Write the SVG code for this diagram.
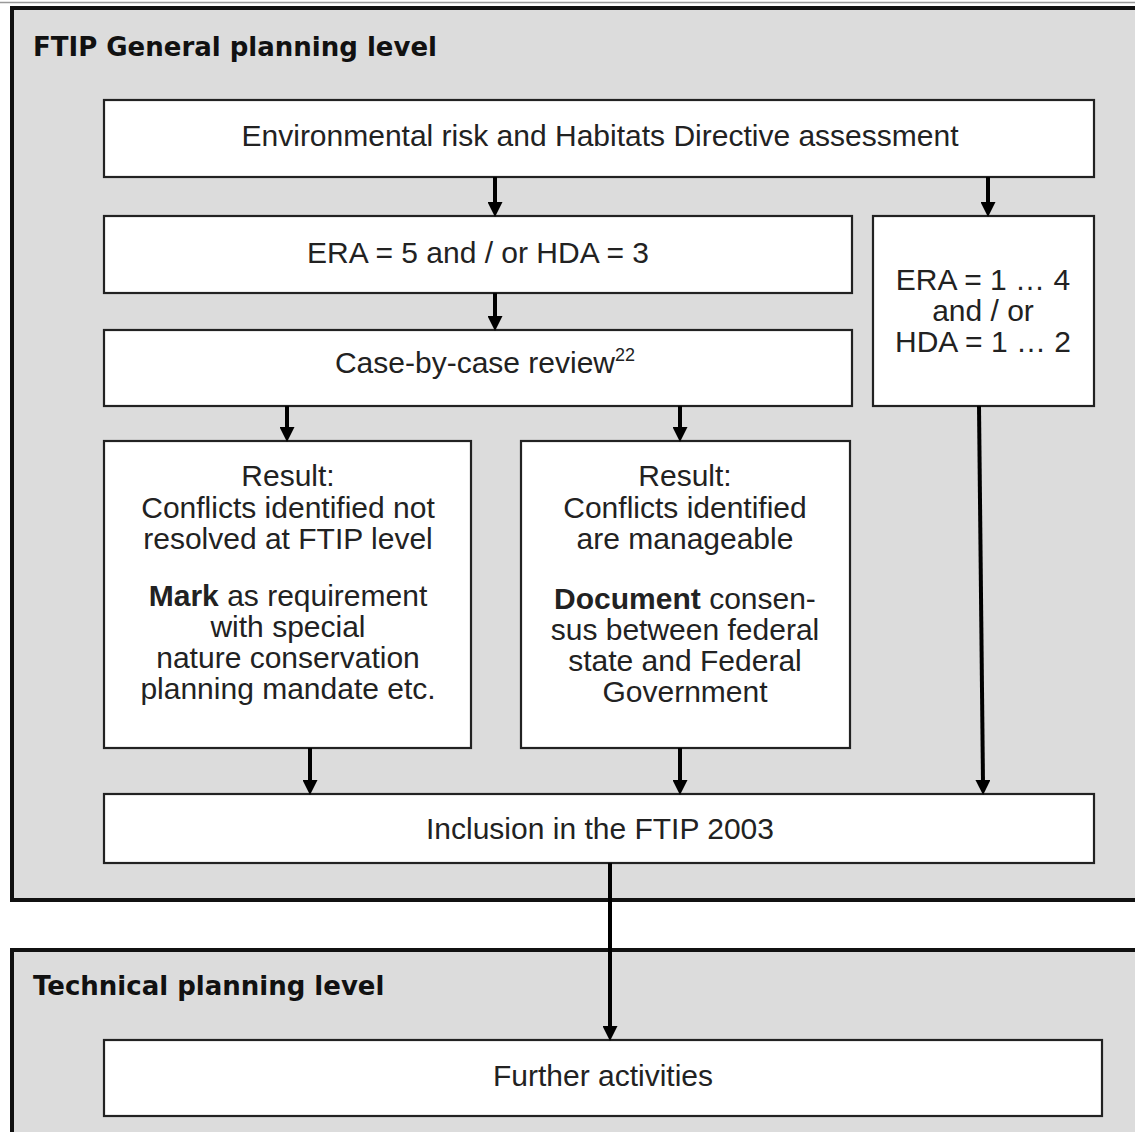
<svg xmlns="http://www.w3.org/2000/svg" width="1135" height="1132" viewBox="0 0 1135 1132">
<style>
.panel{fill:#dcdcdc;stroke:#111;stroke-width:4}
.box{fill:#fff;stroke:#222;stroke-width:2.2}
.t{font-family:"Liberation Sans",Arial,sans-serif;font-size:30px;fill:#222;text-anchor:middle}
.b{font-weight:bold}
.title{font-family:"DejaVu Sans",Verdana,sans-serif;font-weight:bold;font-size:26px;fill:#111}
.c{stroke:#000;stroke-width:4;fill:none;marker-end:url(#ah)}
</style>
<defs>
<marker id="ah" markerUnits="userSpaceOnUse" markerWidth="15" markerHeight="15" refX="4" refY="7.5" orient="auto">
<path d="M0,0 L15,7.5 L0,15 z" fill="#000"/>
</marker>
</defs>
<rect width="1135" height="1132" fill="#fff"/>
<line x1="0" y1="2.5" x2="1135" y2="2.5" stroke="#999" stroke-width="1.5"/>
<g id="panel-ftip">
<rect class="panel" x="12" y="8" width="1135" height="892"/>
<text class="title" x="33" y="56">FTIP General planning level</text>
</g>
<g id="panel-technical">
<rect class="panel" x="12" y="950" width="1135" height="200"/>
<text class="title" x="33" y="995">Technical planning level</text>
</g>
<g id="n-assessment">
<rect class="box" x="104" y="100" width="990" height="77"/>
<text class="t" x="600" y="146">Environmental risk and Habitats Directive assessment</text>
</g>
<g id="n-era5">
<rect class="box" x="104" y="216" width="748" height="77"/>
<text class="t" x="478" y="263">ERA = 5 and / or HDA = 3</text>
</g>
<g id="n-era14">
<rect class="box" x="873" y="216" width="221" height="190"/>
<text class="t" x="983" y="290">ERA = 1 … 4</text>
<text class="t" x="983" y="321">and / or</text>
<text class="t" x="983" y="352">HDA = 1 … 2</text>
</g>
<g id="n-review">
<rect class="box" x="104" y="330" width="748" height="76"/>
<text class="t" x="485" y="373">Case-by-case review<tspan font-size="18" dy="-12">22</tspan></text>
</g>
<g id="n-result-left">
<rect class="box" x="104" y="441" width="367" height="307"/>
<text class="t" x="288" y="486">Result:</text>
<text class="t" x="288" y="518">Conflicts identified not</text>
<text class="t" x="288" y="549">resolved at FTIP level</text>
<text class="t" x="288" y="606"><tspan class="b">Mark</tspan> as requirement</text>
<text class="t" x="288" y="637">with special</text>
<text class="t" x="288" y="668">nature conservation</text>
<text class="t" x="288" y="699">planning mandate etc.</text>
</g>
<g id="n-result-right">
<rect class="box" x="521" y="441" width="329" height="307"/>
<text class="t" x="685" y="486">Result:</text>
<text class="t" x="685" y="518">Conflicts identified</text>
<text class="t" x="685" y="549">are manageable</text>
<text class="t" x="685" y="609"><tspan class="b">Document</tspan> consen-</text>
<text class="t" x="685" y="640">sus between federal</text>
<text class="t" x="685" y="671">state and Federal</text>
<text class="t" x="685" y="702">Government</text>
</g>
<g id="n-inclusion">
<rect class="box" x="104" y="794" width="990" height="69"/>
<text class="t" x="600" y="839">Inclusion in the FTIP 2003</text>
</g>
<g id="n-further">
<rect class="box" x="104" y="1040" width="998" height="76"/>
<text class="t" x="603" y="1086">Further activities</text>
</g>
<g id="connectors">
<line class="c" x1="495" y1="177" x2="495" y2="206"/>
<line class="c" x1="988" y1="177" x2="988" y2="206"/>
<line class="c" x1="495" y1="293" x2="495" y2="320"/>
<line class="c" x1="287" y1="406" x2="287" y2="431"/>
<line class="c" x1="680" y1="406" x2="680" y2="431"/>
<line class="c" x1="310" y1="748" x2="310" y2="784"/>
<line class="c" x1="680" y1="748" x2="680" y2="784"/>
<line class="c" x1="979" y1="406" x2="983" y2="784"/>
<line class="c" x1="610" y1="863" x2="610" y2="1030"/>
</g>
</svg>
